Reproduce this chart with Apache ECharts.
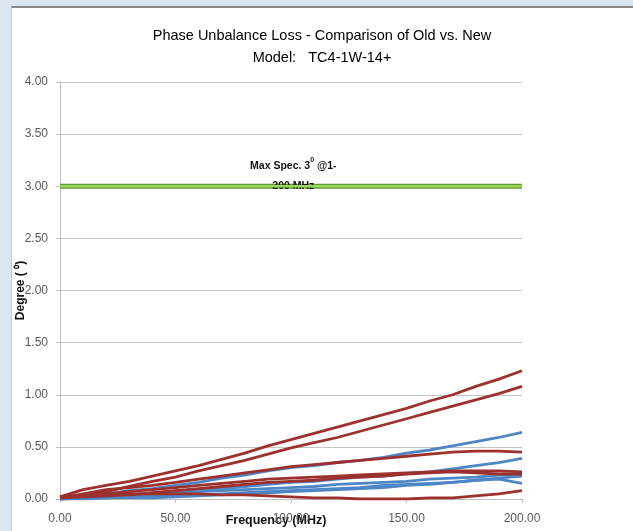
<!DOCTYPE html>
<html>
<head>
<meta charset="utf-8">
<script src="https://cdn.jsdelivr.net/npm/echarts@6/dist/echarts.min.js"></script>
<style>
  html, body { margin: 0; padding: 0; width: 633px; height: 531px; background: #dce6f1; overflow: hidden; }
  #panel { position: absolute; left: 11px; top: 6px; width: 622px; height: 525px; background: #fff;
           border-top: 2px solid #8a8a8a; border-left: 1px solid #c9c9c9; box-sizing: border-box; }
  #chart { position: absolute; left: 0; top: 0; width: 633px; height: 531px; }
</style>
</head>
<body>
<div id="panel"></div>
<div id="chart"></div>
<script>
// Frequency (MHz)
const freq = [0,10,20,30,40,50,60,70,80,90,100,110,120,130,140,150,160,170,180,190,200];

// Old model (red)
const old1 = [0.02,0.09,0.13,0.17,0.22,0.27,0.32,0.38,0.44,0.51,0.57,0.63,0.69,0.75,0.81,0.87,0.94,1.00,1.08,1.15,1.23];
const old2 = [0.02,0.03,0.07,0.12,0.17,0.21,0.27,0.32,0.37,0.43,0.49,0.54,0.59,0.65,0.71,0.77,0.83,0.89,0.95,1.01,1.08];
const old3 = [0.01,0.05,0.09,0.11,0.13,0.16,0.19,0.22,0.25,0.28,0.31,0.33,0.35,0.37,0.39,0.41,0.43,0.45,0.46,0.46,0.45];
const old4 = [0.01,0.03,0.05,0.07,0.09,0.11,0.13,0.15,0.17,0.19,0.20,0.21,0.22,0.23,0.24,0.25,0.26,0.27,0.27,0.27,0.26];
const old5 = [0.01,0.02,0.03,0.04,0.06,0.08,0.10,0.12,0.14,0.16,0.17,0.18,0.20,0.21,0.22,0.24,0.25,0.26,0.25,0.24,0.24];
const old6 = [0.01,0.03,0.04,0.05,0.05,0.05,0.05,0.04,0.04,0.03,0.02,0.01,0.01,0.00,0.00,0.00,0.01,0.01,0.03,0.05,0.08];

// New model (blue)
const new1 = [0.00,0.02,0.05,0.08,0.10,0.13,0.16,0.20,0.23,0.27,0.30,0.32,0.35,0.37,0.40,0.44,0.47,0.51,0.55,0.59,0.64];
const new2 = [0.00,0.01,0.02,0.03,0.05,0.07,0.08,0.10,0.12,0.14,0.16,0.17,0.19,0.21,0.22,0.24,0.26,0.29,0.32,0.35,0.39];
const new3 = [0.00,0.01,0.02,0.03,0.04,0.05,0.07,0.08,0.09,0.10,0.11,0.12,0.14,0.15,0.16,0.17,0.19,0.20,0.21,0.23,0.24];
const new4 = [0.00,0.01,0.01,0.02,0.03,0.035,0.04,0.05,0.06,0.07,0.08,0.09,0.10,0.11,0.13,0.14,0.15,0.16,0.18,0.19,0.15];
const new5 = [0.00,0.00,0.01,0.01,0.01,0.02,0.03,0.04,0.05,0.06,0.07,0.08,0.09,0.10,0.11,0.13,0.14,0.16,0.18,0.20,0.22];

// Spec limit
const specFreq = [0, 200];
const specValue = 3.0;
const specLabelFreq = 101;

const oldSeries = [old1, old2, old3, old4, old5, old6];
const newSeries = [new1, new2, new3, new4, new5];

const RED = '#9c312e';
const BLUE = '#4f86c5';

function pairs(vals) { return freq.map((f, i) => [f, vals[i]]); }

const series = [];
newSeries.forEach((s, i) => series.push({
  name: 'New ' + (i + 1), type: 'line', data: pairs(s), showSymbol: false, symbol: 'none',
  lineStyle: { color: BLUE, width: 2.8 }, z: 2
}));
oldSeries.forEach((s, i) => series.push({
  name: 'Old ' + (i + 1), type: 'line', data: pairs(s), showSymbol: false, symbol: 'none',
  lineStyle: { color: RED, width: 2.8 }, z: 3
}));
series.push({
  name: 'Spec edge', type: 'line', data: specFreq.map(f => [f, specValue]), symbol: 'none',
  lineStyle: { color: '#5e9b2c', width: 5 }, z: 4
});
series.push({
  name: 'Spec', type: 'line', data: specFreq.map(f => [f, specValue]), symbol: 'none',
  lineStyle: { color: '#9ad75a', width: 2.5 }, z: 5,
  markPoint: {
    symbol: 'circle', symbolSize: 0,
    data: [{ coord: [specLabelFreq, specValue] }],
    label: {
      show: true, position: 'inside', offset: [0, -10],
      formatter: '{a|Max Spec. 3}{s|0}{a| @1-}\n{a|200 MHz}',
      rich: {
        a: { fontFamily: 'Liberation Sans', fontWeight: 'bold', fontSize: 10.5, color: '#111', lineHeight: 20 },
        s: { fontFamily: 'Liberation Sans', fontWeight: 'bold', fontSize: 7, color: '#111', verticalAlign: 'top', padding: [0,0,6,0], lineHeight: 20 }
      }
    }
  }
});

const chart = echarts.init(document.getElementById('chart'), null, { renderer: 'canvas' });
chart.setOption({
  animation: false,
  backgroundColor: 'transparent',
  title: {
    text: 'Phase Unbalance Loss - Comparison of Old vs. New\nModel:   TC4-1W-14+',
    left: 317, top: 20, textAlign: 'center',
    textStyle: { fontFamily: 'Liberation Sans', fontWeight: 'normal', fontSize: 14.5, color: '#000', lineHeight: 22 }
  },
  grid: { left: 60, right: 111, top: 82, bottom: 32, containLabel: false, outerBoundsMode: 'none' },
  xAxis: {
    type: 'value', min: 0, max: 200, interval: 50,
    name: 'Frequency (MHz)', nameLocation: 'middle', nameGap: 15, nameMoveOverlap: false,
    nameTextStyle: { fontFamily: 'Liberation Sans', fontWeight: 'bold', fontSize: 12.5, color: '#111', padding: [0, 30, 0, 0] },
    axisLine: { show: true, lineStyle: { color: '#bfbfbf', width: 1 } },
    axisTick: { show: true, length: 4, lineStyle: { color: '#bfbfbf' } },
    axisLabel: { margin: 14, fontFamily: 'Liberation Sans', fontSize: 12, color: '#595959', formatter: v => v.toFixed(2) },
    splitLine: { show: false }
  },
  yAxis: {
    type: 'value', min: 0, max: 4, interval: 0.5,
    name: 'Degree ( \u2070)', nameLocation: 'middle', nameGap: 33, nameRotate: 90, nameMoveOverlap: false,
    nameTextStyle: { fontFamily: 'Liberation Sans', fontWeight: 'bold', fontSize: 12, color: '#111' },
    axisLine: { show: true, lineStyle: { color: '#bfbfbf', width: 1 } },
    axisTick: { show: true, length: 4, lineStyle: { color: '#bfbfbf' } },
    axisLabel: { margin: 12, fontFamily: 'Liberation Sans', fontSize: 12, color: '#595959', formatter: v => v.toFixed(2) },
    splitLine: { show: true, lineStyle: { color: '#c4c4c4', width: 1 } }
  },
  series: series
});
</script>
</body>
</html>
